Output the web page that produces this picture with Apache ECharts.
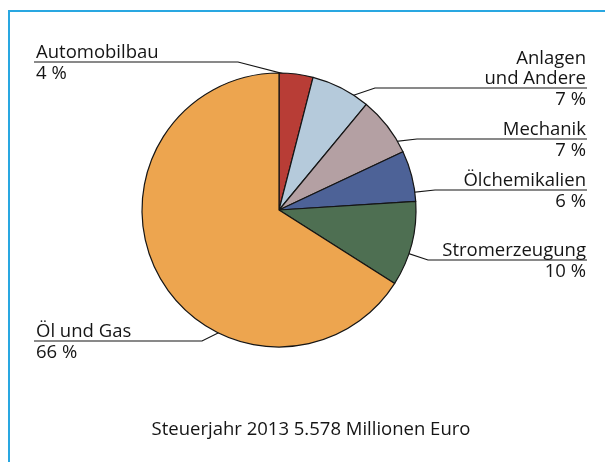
<!DOCTYPE html>
<html>
<head>
<meta charset="utf-8">
<script src="https://cdn.jsdelivr.net/npm/echarts@6/dist/echarts.min.js"></script>
<style>
  html, body { margin: 0; padding: 0; background: #fff; }
  #chart { width: 605px; height: 462px; }
</style>
</head>
<body>
<div id="chart"></div>
<script>
// Daten
const sectors = ['Automobilbau', 'Anlagen\nund Andere', 'Mechanik', 'Ölchemikalien', 'Stromerzeugung', 'Öl und Gas'];
const shares = [4, 7, 7, 6, 10, 66];
const colors = ['#b83d36', '#b5cadb', '#b4a0a3', '#4d6297', '#4e6f52', '#eda54f'];
const caption = 'Steuerjahr 2013 5.578 Millionen Euro';

const CX = 279, CY = 210, R = 137;
const FONT = '"Open Sans", sans-serif';
const FS = 18.5;

// Beschriftung: Seite, Hoehe der Linie, Knickpunkt, Winkel/Radius des Startpunkts
const spots = [
  { side: 'left',  y: 62,  elbow: 238, ang: 7.5,   r: 134 },
  { side: 'right', y: 88,  elbow: 375, ang: 28.6,  r: 125 },
  { side: 'right', y: 139, elbow: 417, ang: 58.5,  r: 130 },
  { side: 'right', y: 190, elbow: 435, ang: 82.4,  r: 128 },
  { side: 'right', y: 260, elbow: 428, ang: 108.6, r: 129 },
  { side: 'left',  y: 341, elbow: 202, ang: 200.2, r: 121 }
];
const LEFT_X = 36, RIGHT_X = 586, LH = 20.5;

let chart = echarts.init(document.getElementById('chart'));
chart.setOption({
  animation: false,
  graphic: [{
    type: 'polyline',
    shape: { points: [[605, 11], [9, 11], [9, 462]] },
    style: { stroke: '#29a7e1', lineWidth: 2, fill: null }
  }],
  title: {
    text: caption,
    left: 306,
    textAlign: 'center',
    top: 415,
    textStyle: { fontFamily: FONT, fontSize: FS, fontWeight: 'normal', color: '#151515' }
  },
  series: [{
    type: 'pie',
    center: [CX, CY],
    radius: R,
    startAngle: 90,
    clockwise: true,
    avoidLabelOverlap: false,
    itemStyle: { borderColor: '#151515', borderWidth: 1.2 },
    label: {
      show: true,
      formatter: p => p.name + '\n' + p.value + ' %',
      fontFamily: FONT,
      fontSize: FS,
      lineHeight: LH,
      color: '#151515'
    },
    labelLine: {
      show: true,
      lineStyle: { color: '#151515', width: 1.2 }
    },
    labelLayout: function (params) {
      const s = spots[params.dataIndex];
      const a = s.ang * Math.PI / 180;
      const p0 = [CX + s.r * Math.sin(a), CY - s.r * Math.cos(a)];
      const endX = s.side === 'left' ? LEFT_X - 2 : RIGHT_X + 1;
      return {
        x: s.side === 'left' ? LEFT_X : RIGHT_X,
        y: s.y + LH + 1,
        align: s.side === 'left' ? 'left' : 'right',
        verticalAlign: 'bottom',
        labelLinePoints: [p0, [s.elbow, s.y], [endX, s.y]]
      };
    },
    data: sectors.map((n, i) => ({ name: n, value: shares[i], itemStyle: { color: colors[i] } }))
  }]
});
</script>
</body>
</html>
